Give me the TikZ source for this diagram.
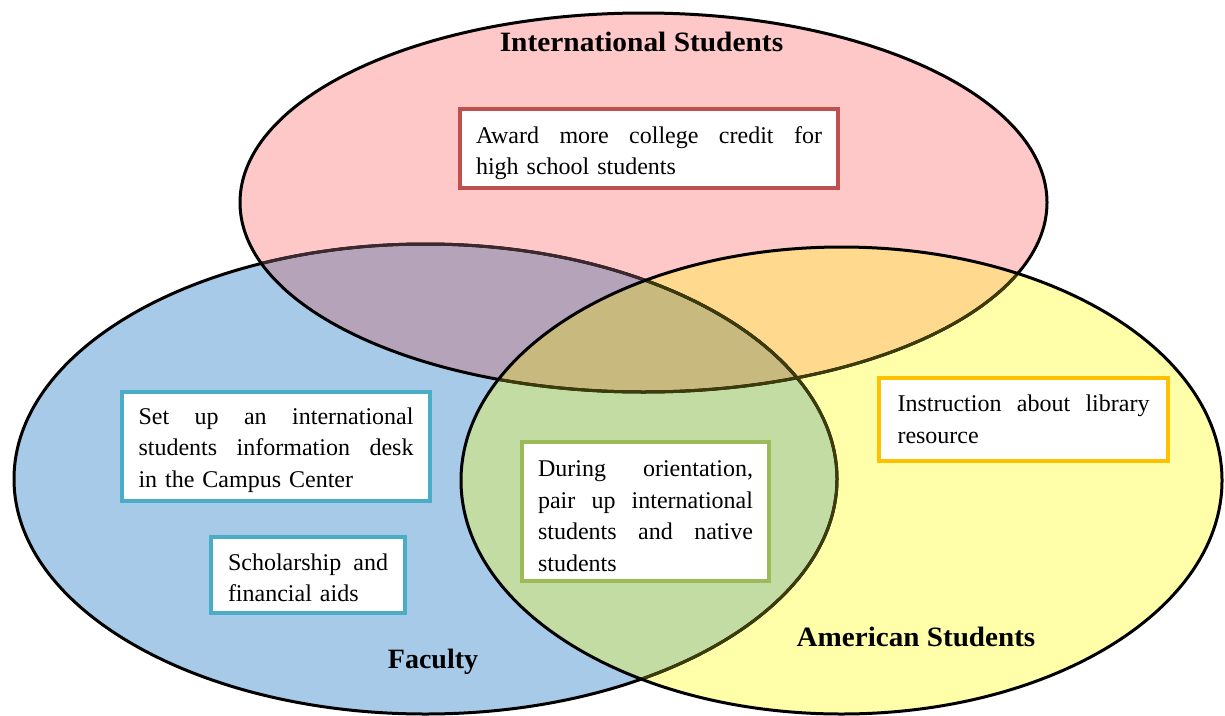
\documentclass[tikz,border=0pt]{standalone}
\usepackage{fontspec}
\setmainfont{Liberation Serif}
\usepackage{graphicx}
\definecolor{cB}{RGB}{167,202,232}
\definecolor{cP}{RGB}{255,200,200}
\definecolor{cY}{RGB}{255,255,170}
\definecolor{cBP}{RGB}{181,163,185}
\definecolor{cPY}{RGB}{255,217,142}
\definecolor{cBY}{RGB}{194,220,164}
\definecolor{cBPY}{RGB}{200,185,126}
\definecolor{lnBP}{RGB}{62,40,48}
\definecolor{lnY}{RGB}{60,60,10}
\definecolor{bRed}{RGB}{192,80,77}
\definecolor{bTeal}{RGB}{75,172,198}
\definecolor{bGreen}{RGB}{155,187,89}
\definecolor{bGold}{RGB}{255,192,0}
\newcommand\jline[2]{\makebox[#1][s]{\spaceskip=0.25em plus 1fil\relax #2}}
\begin{document}
\begin{tikzpicture}[x=1pt,y=-1pt,
  outl/.style={line width=3pt},
  tbox/.style={draw, line width=3.5pt, fill=white, inner sep=0pt},
  ttext/.style={inner sep=0pt, align=left, font=\fontsize{24}{31.5}\selectfont},
  lbl/.style={font=\fontsize{28}{32}\selectfont\bfseries, anchor=base, inner sep=0pt}]
\useasboundingbox (0,0) rectangle (1225,715);
% base fills
\fill[cB] (425.5,479) ellipse [x radius=411.5pt, y radius=235pt];
\fill[cP] (643.5,202.5) ellipse [x radius=403.5pt, y radius=189.5pt];
\fill[cY] (841.5,480.5) ellipse [x radius=380.5pt, y radius=233.5pt];
% overlaps
\begin{scope}
  \clip (425.5,479) ellipse [x radius=411.5pt, y radius=235pt];
  \fill[cBP] (643.5,202.5) ellipse [x radius=403.5pt, y radius=189.5pt];
  \fill[cBY] (841.5,480.5) ellipse [x radius=380.5pt, y radius=233.5pt];
\end{scope}
\begin{scope}
  \clip (643.5,202.5) ellipse [x radius=403.5pt, y radius=189.5pt];
  \fill[cPY] (841.5,480.5) ellipse [x radius=380.5pt, y radius=233.5pt];
\end{scope}
\begin{scope}
  \clip (425.5,479) ellipse [x radius=411.5pt, y radius=235pt];
  \clip (643.5,202.5) ellipse [x radius=403.5pt, y radius=189.5pt];
  \fill[cBPY] (841.5,480.5) ellipse [x radius=380.5pt, y radius=233.5pt];
\end{scope}
% outlines
\draw[outl] (425.5,479) ellipse [x radius=411.5pt, y radius=235pt];
\begin{scope}
  \clip (643.5,202.5) ellipse [x radius=403.5pt, y radius=189.5pt];
  \draw[outl, lnBP] (425.5,479) ellipse [x radius=411.5pt, y radius=235pt];
\end{scope}
\begin{scope}
  \clip (841.5,480.5) ellipse [x radius=380.5pt, y radius=233.5pt];
  \draw[outl, lnY] (425.5,479) ellipse [x radius=411.5pt, y radius=235pt];
\end{scope}
\draw[outl] (643.5,202.5) ellipse [x radius=403.5pt, y radius=189.5pt];
\begin{scope}
  \clip (841.5,480.5) ellipse [x radius=380.5pt, y radius=233.5pt];
  \draw[outl, lnY] (643.5,202.5) ellipse [x radius=403.5pt, y radius=189.5pt];
\end{scope}
\draw[outl] (841.5,480.5) ellipse [x radius=380.5pt, y radius=233.5pt];
% labels
\node[lbl] (intl) at (641.5,51) {\scalebox{1.05}[1]{International Students}};
\node[lbl] (fac) at (433,668) {Faculty};
\node[lbl] (amer) at (916,646) {\scalebox{1.04}[1]{American Students}};
% boxes
\node[tbox, draw=bRed, minimum width=378pt, minimum height=79pt] (award) at (649,148.5) {};
\node[ttext, text width=346pt] (awardtxt) at ([yshift=-4.5pt]award.center)
  {\jline{346pt}{Award more college credit for}\\high school students};

\node[tbox, draw=bTeal, minimum width=308pt, minimum height=109pt] (desk) at (276,446.5) {};
\node[ttext, text width=275pt] (desktxt) at ([yshift=-3.5pt]desk.center)
  {\jline{275pt}{Set up an international}\\\jline{275pt}{students information desk}\\in the Campus Center};

\node[tbox, draw=bTeal, minimum width=194pt, minimum height=76pt] (schol) at (308,575) {};
\node[ttext, text width=160pt] (scholtxt) at ([yshift=-3pt]schol.center)
  {\jline{160pt}{Scholarship and}\\financial aids};

\node[tbox, draw=bGreen, minimum width=247pt, minimum height=139pt] (pair) at (645.5,511.5) {};
\node[ttext, text width=215pt] (pairtxt) at ([yshift=-4.5pt]pair.center)
  {\jline{215pt}{During orientation,}\\\jline{215pt}{pair up international}\\\jline{215pt}{students and native}\\students};

\node[tbox, draw=bGold, minimum width=289pt, minimum height=83pt] (lib) at (1023.5,419.5) {};
\node[ttext, text width=252pt] (libtxt) at ([yshift=0pt]lib.center)
  {\jline{252pt}{Instruction about library}\\resource};
\end{tikzpicture}
\end{document}
